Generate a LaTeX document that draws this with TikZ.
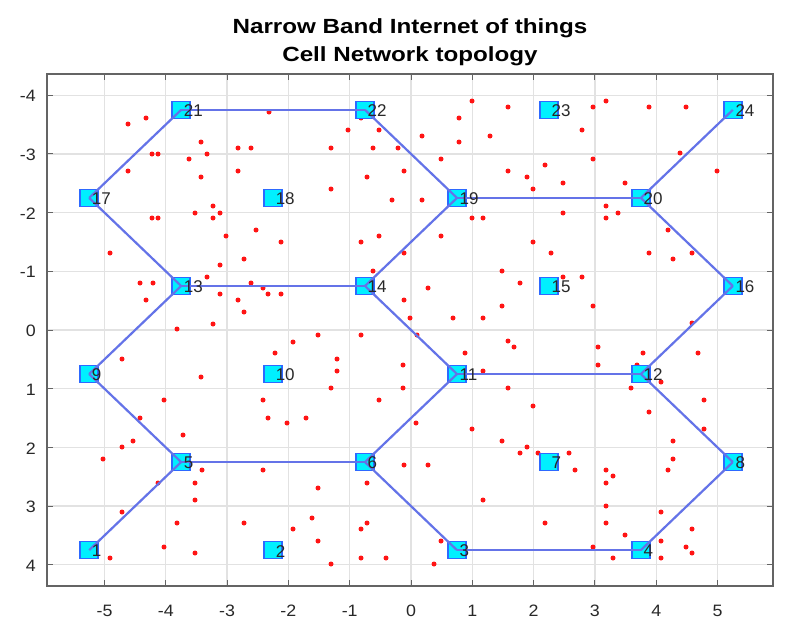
\documentclass[tikz,border=0pt]{standalone}
\usepackage{fontspec}
\setmainfont{Liberation Sans}
\usepackage{graphicx}
\definecolor{gridc}{RGB}{226,226,226}
\definecolor{axc}{RGB}{100,100,100}
\definecolor{edgec}{RGB}{100,115,232}
\definecolor{mkedge}{RGB}{45,105,255}
\definecolor{mkfill}{RGB}{0,240,255}
\definecolor{txtc}{RGB}{40,40,40}
\definecolor{dotc}{RGB}{255,20,20}
\tikzset{
  bs/.style={rectangle, draw=mkedge, fill=mkfill, line width=1.6pt, minimum width=18pt, minimum height=17pt, inner sep=0pt},
  lbl/.style={anchor=west, inner sep=0pt, text=txtc, font=\fontsize{17}{17}\selectfont},
  link/.style={draw=edgec, line width=2.2pt},
  ticklbl/.style={inner sep=0pt, text=txtc, font=\fontsize{16.5}{16.5}\selectfont},
  ttl/.style={anchor=base, inner sep=0pt, text=black, font=\bfseries\fontsize{20.5}{20.5}\selectfont},
  reddot/.style={fill=dotc, draw=none}
}
\begin{document}
\begin{tikzpicture}[x=1pt,y=-1pt]
\useasboundingbox (0,0) rectangle (799,637);
\fill[white] (0,0) rectangle (799,637);
% title
\node[ttl] (title1) at (410,33) {\scalebox{1.18}[1]{Narrow Band Internet of things}};
\node[ttl] (title2) at (410,61) {\scalebox{1.18}[1]{Cell Network topology}};
% grid (data scope)
\begin{scope}[shift={(411,330)}, x=61.3pt, y=-58.7pt]
  \foreach \u in {-5,...,5} {
    \draw[gridc, line width=1.3pt] (\u,-4.36) -- (\u,4.36);
  }
  \foreach \v in {-4,...,4} {
    \draw[gridc, line width=1.3pt] (-5.94,\v) -- (5.90,\v);
  }
\end{scope}
% axes box
\draw[axc, line width=1.6pt] (47,74) rectangle (773,586);
% ticks and tick labels
\begin{scope}[shift={(411,330)}, x=61.3pt, y=-58.7pt]
  \foreach \u in {-5,...,5} {
    \draw[axc, line width=1pt] (\u,-4.36) -- ++(0,-6pt);
    \draw[axc, line width=1pt] (\u,4.36) -- ++(0,6pt);
    \node[ticklbl] (xl\u) at ([yshift=-25pt]\u,4.36) {\scalebox{1.08}[1]{\u}};
  }
  \foreach \v in {-4,...,4} {
    \draw[axc, line width=1pt] (-5.94,\v) -- ++(6pt,0);
    \draw[axc, line width=1pt] (5.90,\v) -- ++(-6pt,0);
    \node[ticklbl, anchor=east] (yl\v) at ([xshift=-11pt,yshift=-1pt]-5.94,\v) {\scalebox{1.08}[1]{\v}};
  }
\end{scope}
% red dots
\foreach \px/\py in {
269/112,128/124,146/118,201/142,238/148,251/148,152/154,158/154,207/154,189/159,
128/171,238/171,201/177,213/206,195/213,220/213,213/218,152/218,158/218,256/230,
226/236,281/242,110/253,244/259,220/265,207/277,140/283,153/283,251/283,263/288,
220/294,268/294,281/294,146/300,238/300,244/312,213/324,177/329,293/342,
472/101,508/107,361/118,459/118,593/107,348/130,379/130,422/136,459/142,490/136,
331/148,373/148,398/148,441/159,593/159,545/165,508/171,404/171,367/177,527/177,
563/183,331/189,533/189,392/200,422/200,472/218,483/218,563/213,379/236,361/242,
441/236,533/242,551/253,404/253,502/271,373/271,563/277,582/277,520/283,428/288,
404/300,502/306,593/306,410/318,453/318,483/318,318/335,361/335,417/335,508/341,582/130,
606/101,649/107,686/107,680/153,717/171,625/183,606/206,618/213,606/218,668/230,
649/253,673/259,692/253,692/323,
275/353,122/359,201/377,164/400,263/400,140/418,268/418,287/423,183/435,133/441,
122/447,103/459,202/470,263/470,158/483,195/483,195/500,122/512,177/523,244/523,
293/529,164/547,195/553,110/558,
514/347,598/347,465/353,337/359,337/371,403/365,598/365,483/371,331/388,403/388,
508/388,379/400,533/406,306/418,416/423,472/429,502/441,527/447,520/453,538/453,
569/453,404/465,428/465,575/470,318/488,367/483,483/500,312/518,367/523,361/529,
545/523,318/541,441/541,593/547,361/558,386/558,331/564,434/564,
643/353,698/353,637/365,661/382,631/388,704/400,649/412,704/429,673/441,673/459,
668/470,606/470,613/476,606/483,606/506,606/523,661/512,692/529,625/535,661/541,
686/547,692/553,613/558,661/558}
{ \fill[reddot] (\px,\py) circle (2.5pt); }
% base stations
\begin{scope}[shift={(411,330)}, x=61.3pt, y=-58.7pt]
\foreach \i/\u/\v in {
 1/-5.25/3.75, 2/-2.25/3.75, 3/0.75/3.75, 4/3.75/3.75,
 5/-3.75/2.25, 6/-0.75/2.25, 7/2.25/2.25, 8/5.25/2.25,
 9/-5.25/0.75, 10/-2.25/0.75, 11/0.75/0.75, 12/3.75/0.75,
 13/-3.75/-0.75, 14/-0.75/-0.75, 15/2.25/-0.75, 16/5.25/-0.75,
 17/-5.25/-2.25, 18/-2.25/-2.25, 19/0.75/-2.25, 20/3.75/-2.25,
 21/-3.75/-3.75, 22/-0.75/-3.75, 23/2.25/-3.75, 24/5.25/-3.75}
{ \node[bs] (n\i) at (\u,\v) {}; }
\end{scope}
% links
\foreach \a/\b in {1/5,5/9,5/6,9/13,13/17,13/14,17/21,21/22,22/19,19/14,14/11,11/6,6/3,3/4,11/12,12/8,8/4,12/16,16/20,20/19,20/24}
{ \draw[link] (n\a.center) -- (n\b.center); }
% labels
\foreach \i in {1,...,24}
{ \node[lbl] (l\i) at ([xshift=2.5pt,yshift=-1pt]n\i.center) {\i}; }
\end{tikzpicture}
\end{document}
